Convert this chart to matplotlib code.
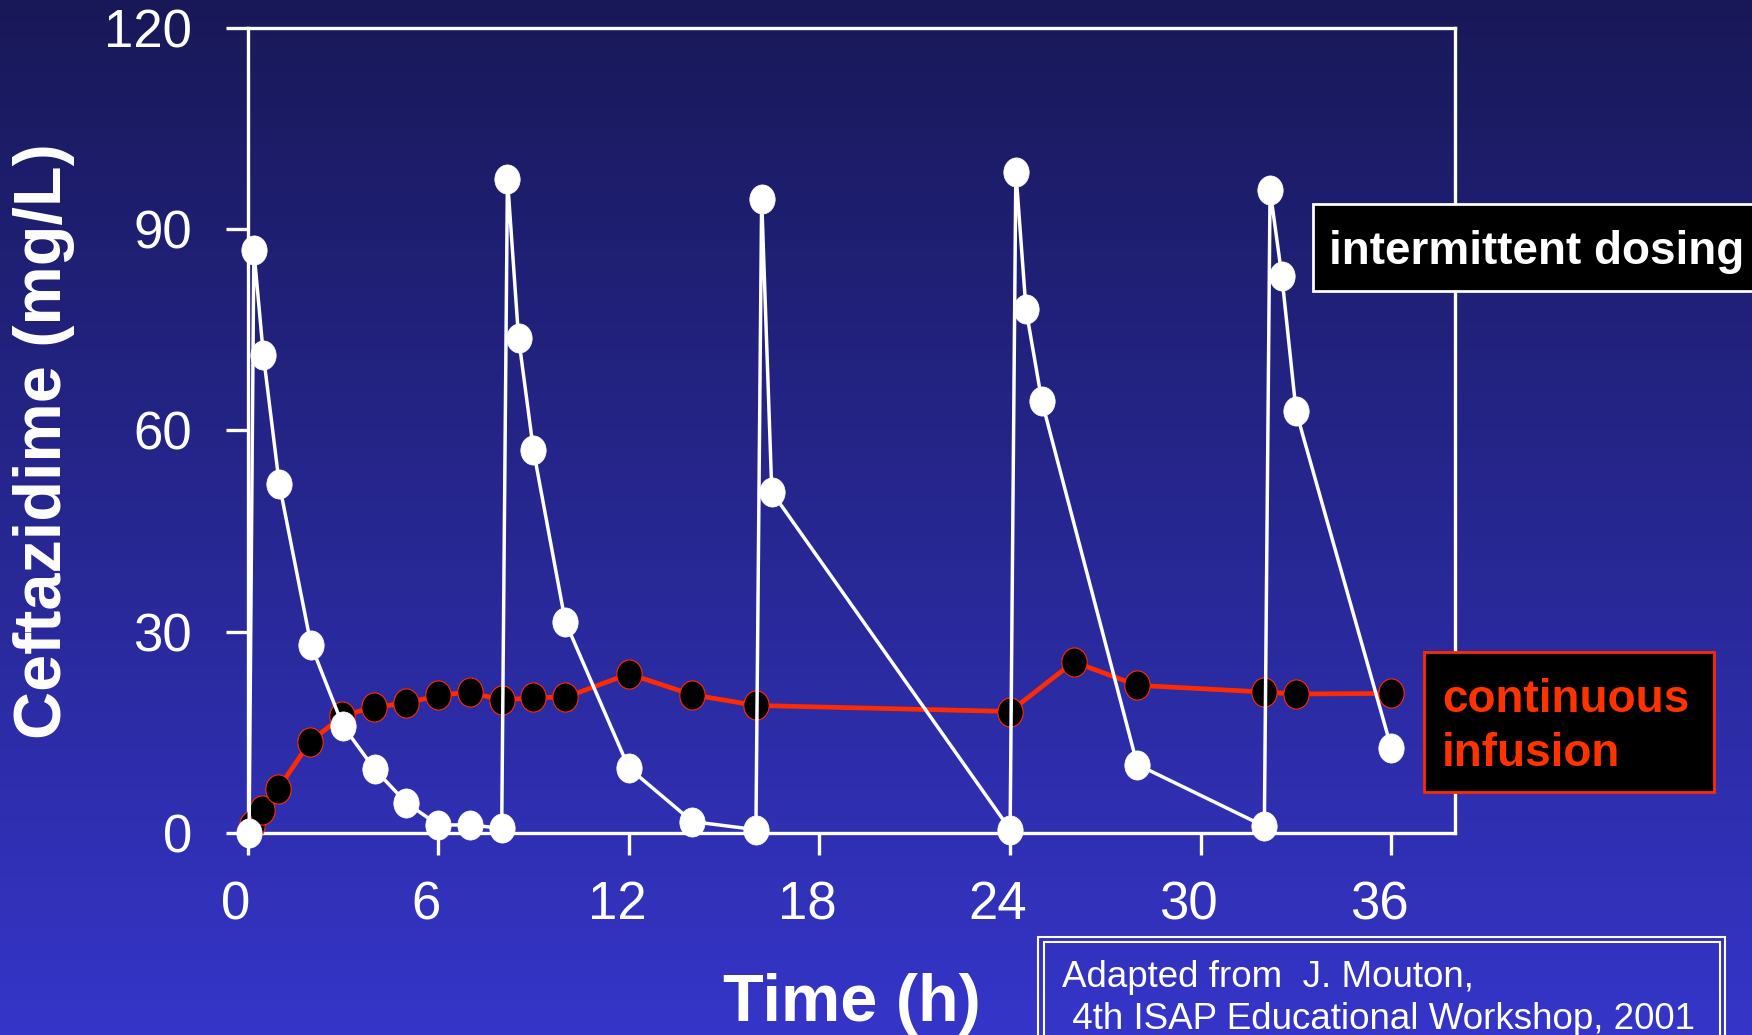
import numpy as np
import matplotlib
matplotlib.use("Agg")
import matplotlib.pyplot as plt
from matplotlib.path import Path
from matplotlib.transforms import Affine2D, ScaledTranslation
from matplotlib.patches import Rectangle
from matplotlib import font_manager

# ---- data ----
time_intermittent = [0.05, 0.2, 0.5, 1.0, 2.0, 3.0, 4.0, 5.0, 6.0, 7.0, 8.0,
                     8.18, 8.53, 9.0, 10.0, 12.0, 14.0, 16.0,
                     16.18, 16.5, 24.0,
                     24.18, 24.5, 25.0, 28.0, 32.0,
                     32.18, 32.55, 33.0, 36.0]
conc_intermittent = [0.0, 86.8, 71.2, 52.0, 28.0, 16.0, 9.5, 4.5, 1.2, 1.2, 0.7,
                     97.5, 73.8, 57.0, 31.5, 9.7, 1.7, 0.5,
                     94.5, 50.8, 0.5,
                     98.5, 78.0, 64.3, 10.2, 1.0,
                     95.8, 83.0, 62.8, 12.6]

time_continuous = [0.14, 0.46, 0.97, 1.97, 2.98, 3.99, 4.99, 6.0, 7.0, 8.0,
                   9.0, 10.0, 12.0, 14.0, 16.0, 24.0, 26.0, 28.0, 32.0, 33.0, 36.0]
conc_continuous = [1.2, 3.5, 6.6, 13.6, 17.4, 18.8, 19.3, 20.5, 21.0, 19.75,
                   20.2, 20.2, 23.7, 20.6, 19.0, 18.1, 25.5, 22.0, 21.0, 20.7, 20.8]

x_ticks = [0, 6, 12, 18, 24, 30, 36]
y_ticks = [0, 30, 60, 90, 120]

# ---- fonts ----
names = {f.name for f in font_manager.fontManager.ttflist}
base_font = "Liberation Sans" if "Liberation Sans" in names else "DejaVu Sans"
plt.rcParams['font.family'] = [base_font, 'DejaVu Sans']

W, H = 1752, 1035
fig = plt.figure(figsize=(W / 100, H / 100), dpi=100)

# background gradient
bg = fig.add_axes([0, 0, 1, 1], zorder=-10)
top = np.array([0x18, 0x18, 0x58]) / 255
bot = np.array([0x35, 0x35, 0xc9]) / 255
t = np.linspace(0, 1, 256)[:, None]
grad = top[None, :] * (1 - t) + bot[None, :] * t
bg.imshow(grad[:, None, :], aspect='auto', extent=[0, 1, 0, 1])
bg.axis('off')

left, right = 247.5 / W, 1455 / W
bottom, topf = (H - 833) / H, (H - 27.5) / H
ax = fig.add_axes([left, bottom, right - left, topf - bottom])
ax.set_facecolor('none')

ell = Path.unit_circle().transformed(Affine2D().scale(1.0, 1.15))

red = '#ff2a00'
ax.plot(time_continuous, conc_continuous, color=red, lw=3.4,
        marker=ell, markersize=21, markerfacecolor='black',
        markeredgecolor=red, markeredgewidth=0.8, clip_on=False, zorder=3)
ax.plot(time_intermittent, conc_intermittent, color='white', lw=2.5,
        marker=ell, markersize=21, markerfacecolor='white',
        markeredgecolor='white', markeredgewidth=0.5, clip_on=False, zorder=4)

ax.set_xlim(0, 38)
ax.set_ylim(0, 120)
ax.set_xticks(x_ticks)
ax.set_yticks(y_ticks)
ax.set_xticklabels([str(v) for v in x_ticks])
ax.set_yticklabels([str(v) for v in y_ticks])
for s in ax.spines.values():
    s.set_color('white')
    s.set_linewidth(2.4)
ax.tick_params(axis='both', colors='white', length=16, width=2.4,
               labelsize=38, direction='out')
ax.tick_params(axis='y', pad=24)
ax.tick_params(axis='x', pad=18)
shift = ScaledTranslation(-0.12, 0, fig.dpi_scale_trans)
for lab in ax.get_xticklabels():
    lab.set_transform(lab.get_transform() + shift)

fig.text(44 / W, 1 - 441 / H, 'Ceftazidime (mg/L)', color='white', fontsize=48,
         fontweight='bold', rotation=90, ha='center', va='center')
fig.text(852 / W, 1 - 1004 / H, 'Time (h)', color='white', fontsize=48,
         fontweight='bold', ha='center', va='center')

# legend boxes
fig.patches.append(Rectangle((1313 / W, 1 - 291 / H), (1760 - 1313) / W, 87 / H,
                             transform=fig.transFigure, facecolor='black',
                             edgecolor='white', lw=2, zorder=5))
fig.text(1329 / W, 1 - 252 / H, 'intermittent dosing', color='white',
         fontsize=33, fontweight='bold', ha='left', va='center', zorder=6)

fig.patches.append(Rectangle((1424 / W, 1 - 792 / H), 290 / W, 140 / H,
                             transform=fig.transFigure, facecolor='black',
                             edgecolor=red, lw=2, zorder=5))
fig.text(1442 / W, 1 - 700 / H, 'continuous', color='#ff3300',
         fontsize=33, fontweight='bold', ha='left', va='center', zorder=6)
fig.text(1442 / W, 1 - 754 / H, 'infusion', color='#ff3300',
         fontsize=33, fontweight='bold', ha='left', va='center', zorder=6)

# attribution box (double border)
fig.patches.append(Rectangle((1038 / W, -0.05), (1725 - 1038) / W, 0.05 + (H - 937) / H,
                             transform=fig.transFigure, facecolor='none',
                             edgecolor='white', lw=1.5, zorder=5))
fig.patches.append(Rectangle((1044 / W, -0.05), (1720 - 1044) / W, 0.05 + (H - 942) / H,
                             transform=fig.transFigure, facecolor='none',
                             edgecolor='white', lw=1.5, zorder=5))
fig.text(1062 / W, 1 - 987 / H, 'Adapted from  J. Mouton,', color='white',
         fontsize=26.5, ha='left', va='baseline', zorder=6)
fig.text(1062 / W, 1 - 1029 / H, ' 4th ISAP Educational Workshop, 2001', color='white',
         fontsize=26.5, ha='left', va='baseline', zorder=6)

fig.savefig('out.png', dpi=100)
